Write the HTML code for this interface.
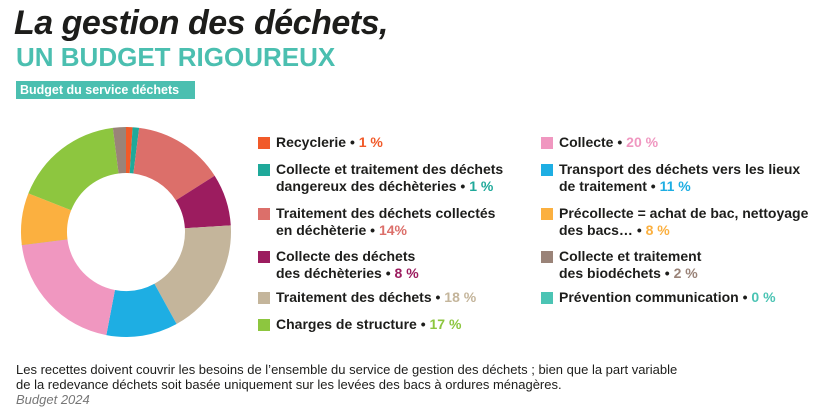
<!DOCTYPE html>
<html><head><meta charset="utf-8"><style>
body{margin:0;width:823px;height:409px;background:#fff;font-family:"Liberation Sans",sans-serif;position:relative;overflow:hidden;color:#1d1d1b}
.a{position:absolute;white-space:nowrap}
.t1{left:14px;top:4px;font-size:34px;font-weight:bold;font-style:italic;letter-spacing:-0.5px}
.t2{left:16px;top:42px;font-size:26px;font-weight:bold;color:#4bbfb0}
.badge{left:16px;top:81px;height:18px;width:179px;background:#4bbfb0;color:#fff;font-size:12.5px;font-weight:bold;line-height:18px;padding-left:4px;box-sizing:border-box}
.lg{font-size:14px;font-weight:bold;line-height:17px}
.sw{position:absolute;width:12px;height:12px}
.foot{left:16px;top:362px;font-size:13px;line-height:15px}
</style></head><body>
<div class="a t1">La gestion des déchets,</div>
<div class="a t2">UN BUDGET RIGOUREUX</div>
<div class="a badge">Budget du service déchets</div>
<svg id="donut" class="a" style="left:0;top:110px" width="250" height="245"></svg>
<div id="legend"></div>
<div class="a foot">Les recettes doivent couvrir les besoins de l’ensemble du service de gestion des déchets ; bien que la part variable<br>de la redevance déchets soit basée uniquement sur les levées des bacs à ordures ménagères.<br><i style="color:#777">Budget 2024</i></div>
<script>
const sliceNames=["Recyclerie","Collecte et traitement des déchets dangereux des déchèteries","Traitement des déchets collectés en déchèterie","Collecte des déchets des déchèteries","Traitement des déchets","Transport des déchets vers les lieux de traitement","Collecte","Prévention communication","Précollecte = achat de bac, nettoyage des bacs…","Charges de structure","Collecte et traitement des biodéchets"];
const sliceValues=[1,1,14,8,18,11,20,0,8,17,2];
const sliceColors=["#f15a29","#1fa99a","#dc6f6a","#9c1c5f","#c4b59b","#1eaee3","#f097c0","#4bc4b4","#fbb040","#8dc63f","#9a8378"];
const NS="http://www.w3.org/2000/svg";
const svg=document.getElementById("donut");
const cx=126,cy=122,R=105,r=59;
const total=sliceValues.reduce((a,b)=>a+b,0);
function pt(a,rad){return [cx+rad*Math.sin(a),cy-rad*Math.cos(a)];}
let ang=0;
sliceValues.forEach((v,i)=>{
  let sweep=v/total*2*Math.PI;
  let draw=Math.max(sweep,0.006);
  const a0=ang,a1=ang+draw;
  const p0=pt(a0,R),p1=pt(a1,R),p2=pt(a1,r),p3=pt(a0,r);
  const lg=draw>Math.PI?1:0;
  const p=document.createElementNS(NS,"path");
  p.setAttribute("d",`M${p0} A${R} ${R} 0 ${lg} 1 ${p1} L${p2} A${r} ${r} 0 ${lg} 0 ${p3}Z`);
  p.setAttribute("fill",sliceColors[i]);
  
  
  svg.appendChild(p);
  ang+=sweep;
});
const legendItems=[
 [0,258,136,["Recyclerie"]],
 [1,258,163,["Collecte et traitement des déchets","dangereux des déchèteries"]],
 [2,258,207,["Traitement des déchets collectés","en déchèterie"]],
 [3,258,250,["Collecte des déchets","des déchèteries"]],
 [4,258,291,["Traitement des déchets"]],
 [9,258,318,["Charges de structure"]],
 [6,541,136,["Collecte"]],
 [5,541,163,["Transport des déchets vers les lieux","de traitement"]],
 [8,541,207,["Précollecte = achat de bac, nettoyage","des bacs…"]],
 [10,541,250,["Collecte et traitement","des biodéchets"]],
 [7,541,291,["Prévention communication"]]
];
const lgd=document.getElementById("legend");
legendItems.forEach(([i,x,y,lines])=>{
  const sw=document.createElement("div");
  sw.className="sw";sw.style.left=x+"px";sw.style.top=(y+1)+"px";sw.style.background=sliceColors[i];
  
  
  lgd.appendChild(sw);
  const t=document.createElement("div");
  t.className="a lg";t.style.left=(x+18)+"px";t.style.top=(y-2)+"px";
  const pct=(i===2?sliceValues[i]+"%":sliceValues[i]+" %");
  t.innerHTML=lines.join("<br>")+' • <span style="color:'+sliceColors[i]+'">'+pct+'</span>';
  
  
  lgd.appendChild(t);
});
</script>
</body></html>
